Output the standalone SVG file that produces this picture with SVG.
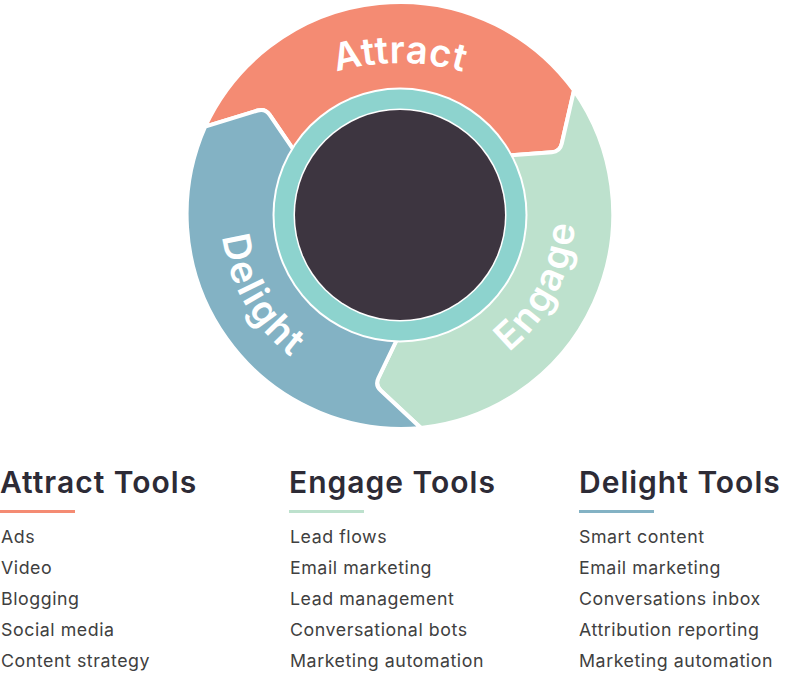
<svg xmlns="http://www.w3.org/2000/svg" width="800" height="695" viewBox="0 0 800 695">
<style>
.seg{stroke:#ffffff;stroke-width:4;stroke-linejoin:round}
.wheel{font-family:Inter,"Noto Sans",sans-serif;font-weight:600;font-size:38px;fill:#ffffff;letter-spacing:2px}
.wa{letter-spacing:0.6px}
.head{font-family:Inter,"Noto Sans",sans-serif;font-weight:600;font-size:30px;fill:#2d2b36;letter-spacing:1px}
.item{font-family:Inter,"Noto Sans",sans-serif;font-weight:400;font-size:17.8px;fill:#404040;letter-spacing:0.55px}
</style>
<defs>
<path id="pAttract" d="M 237.4,130.4 A 230 230 0 0 1 562.6,130.4"/>
<path id="pEngage" d="M 400,390 A 175 175 0 0 0 541.6,112.1"/>
<path id="pDelight" d="M 245.0,125.5 A 179 179 0 0 0 400,394"/>
</defs>
<rect width="800" height="695" fill="#ffffff"/>
<g id="wheel">
<g id="attract">
<path class="seg" fill="#f48b73" d="M 205.1,126.6 L 257.6,110.5 Q 265.2,108.2 269.7,114.8 L 295.3,152.4 A 122 122 0 0 1 506.6,155.7 L 551.9,152.3 Q 559.9,151.7 561.7,143.9 L 574.0,90.4 A 215 215 0 0 0 205.1,126.6 Z"/>
<text class="wheel wa"><textPath href="#pAttract" startOffset="50%" text-anchor="middle">Attract</textPath></text>
</g>
<g id="engage">
<path class="seg" fill="#bde1cd" d="M 574.0,90.4 L 561.7,143.9 Q 559.9,151.7 551.9,152.3 L 506.6,155.7 A 122 122 0 0 1 398.1,337.0 L 378.4,378.0 Q 374.9,385.2 380.8,390.6 L 420.9,428.0 A 215 215 0 0 0 574.0,90.4 Z"/>
<text class="wheel"><textPath href="#pEngage" startOffset="50%" text-anchor="middle">Engage</textPath></text>
</g>
<g id="delight">
<path class="seg" fill="#83b2c4" d="M 420.9,428.0 L 380.8,390.6 Q 374.9,385.2 378.4,378.0 L 398.1,337.0 A 122 122 0 0 1 295.3,152.4 L 269.7,114.8 Q 265.2,108.2 257.6,110.5 L 205.1,126.6 A 215 215 0 0 0 420.9,428.0 Z"/>
<text class="wheel"><textPath href="#pDelight" startOffset="50%" text-anchor="middle">Delight</textPath></text>
</g>
<g id="hub">
<circle cx="400" cy="215" r="127.5" fill="#ffffff"/>
<circle cx="400" cy="215" r="125.5" fill="#8dd3ce"/>
<circle cx="400" cy="215" r="106.5" fill="#ffffff"/>
<circle cx="400" cy="215" r="105" fill="#3d3540"/>
</g>
</g>
<g id="col-attract">
<text class="head" x="0" y="493">Attract Tools</text>
<rect x="0" y="510" width="75" height="3" fill="#f48b73"/>
<text class="item" x="1" y="543">Ads</text>
<text class="item" x="1" y="574">Video</text>
<text class="item" x="1" y="605">Blogging</text>
<text class="item" x="1" y="636">Social media</text>
<text class="item" x="1" y="667">Content strategy</text>
</g>
<g id="col-engage">
<text class="head" x="289" y="493">Engage Tools</text>
<rect x="289" y="510" width="75" height="3" fill="#bde1cd"/>
<text class="item" x="290" y="543">Lead flows</text>
<text class="item" x="290" y="574">Email marketing</text>
<text class="item" x="290" y="605">Lead management</text>
<text class="item" x="290" y="636">Conversational bots</text>
<text class="item" x="290" y="667">Marketing automation</text>
</g>
<g id="col-delight">
<text class="head" x="579" y="493">Delight Tools</text>
<rect x="579" y="510" width="75" height="3" fill="#83b2c4"/>
<text class="item" x="579" y="543">Smart content</text>
<text class="item" x="579" y="574">Email marketing</text>
<text class="item" x="579" y="605">Conversations inbox</text>
<text class="item" x="579" y="636">Attribution reporting</text>
<text class="item" x="579" y="667">Marketing automation</text>
</g>
<g id="connectors"></g>
</svg>
